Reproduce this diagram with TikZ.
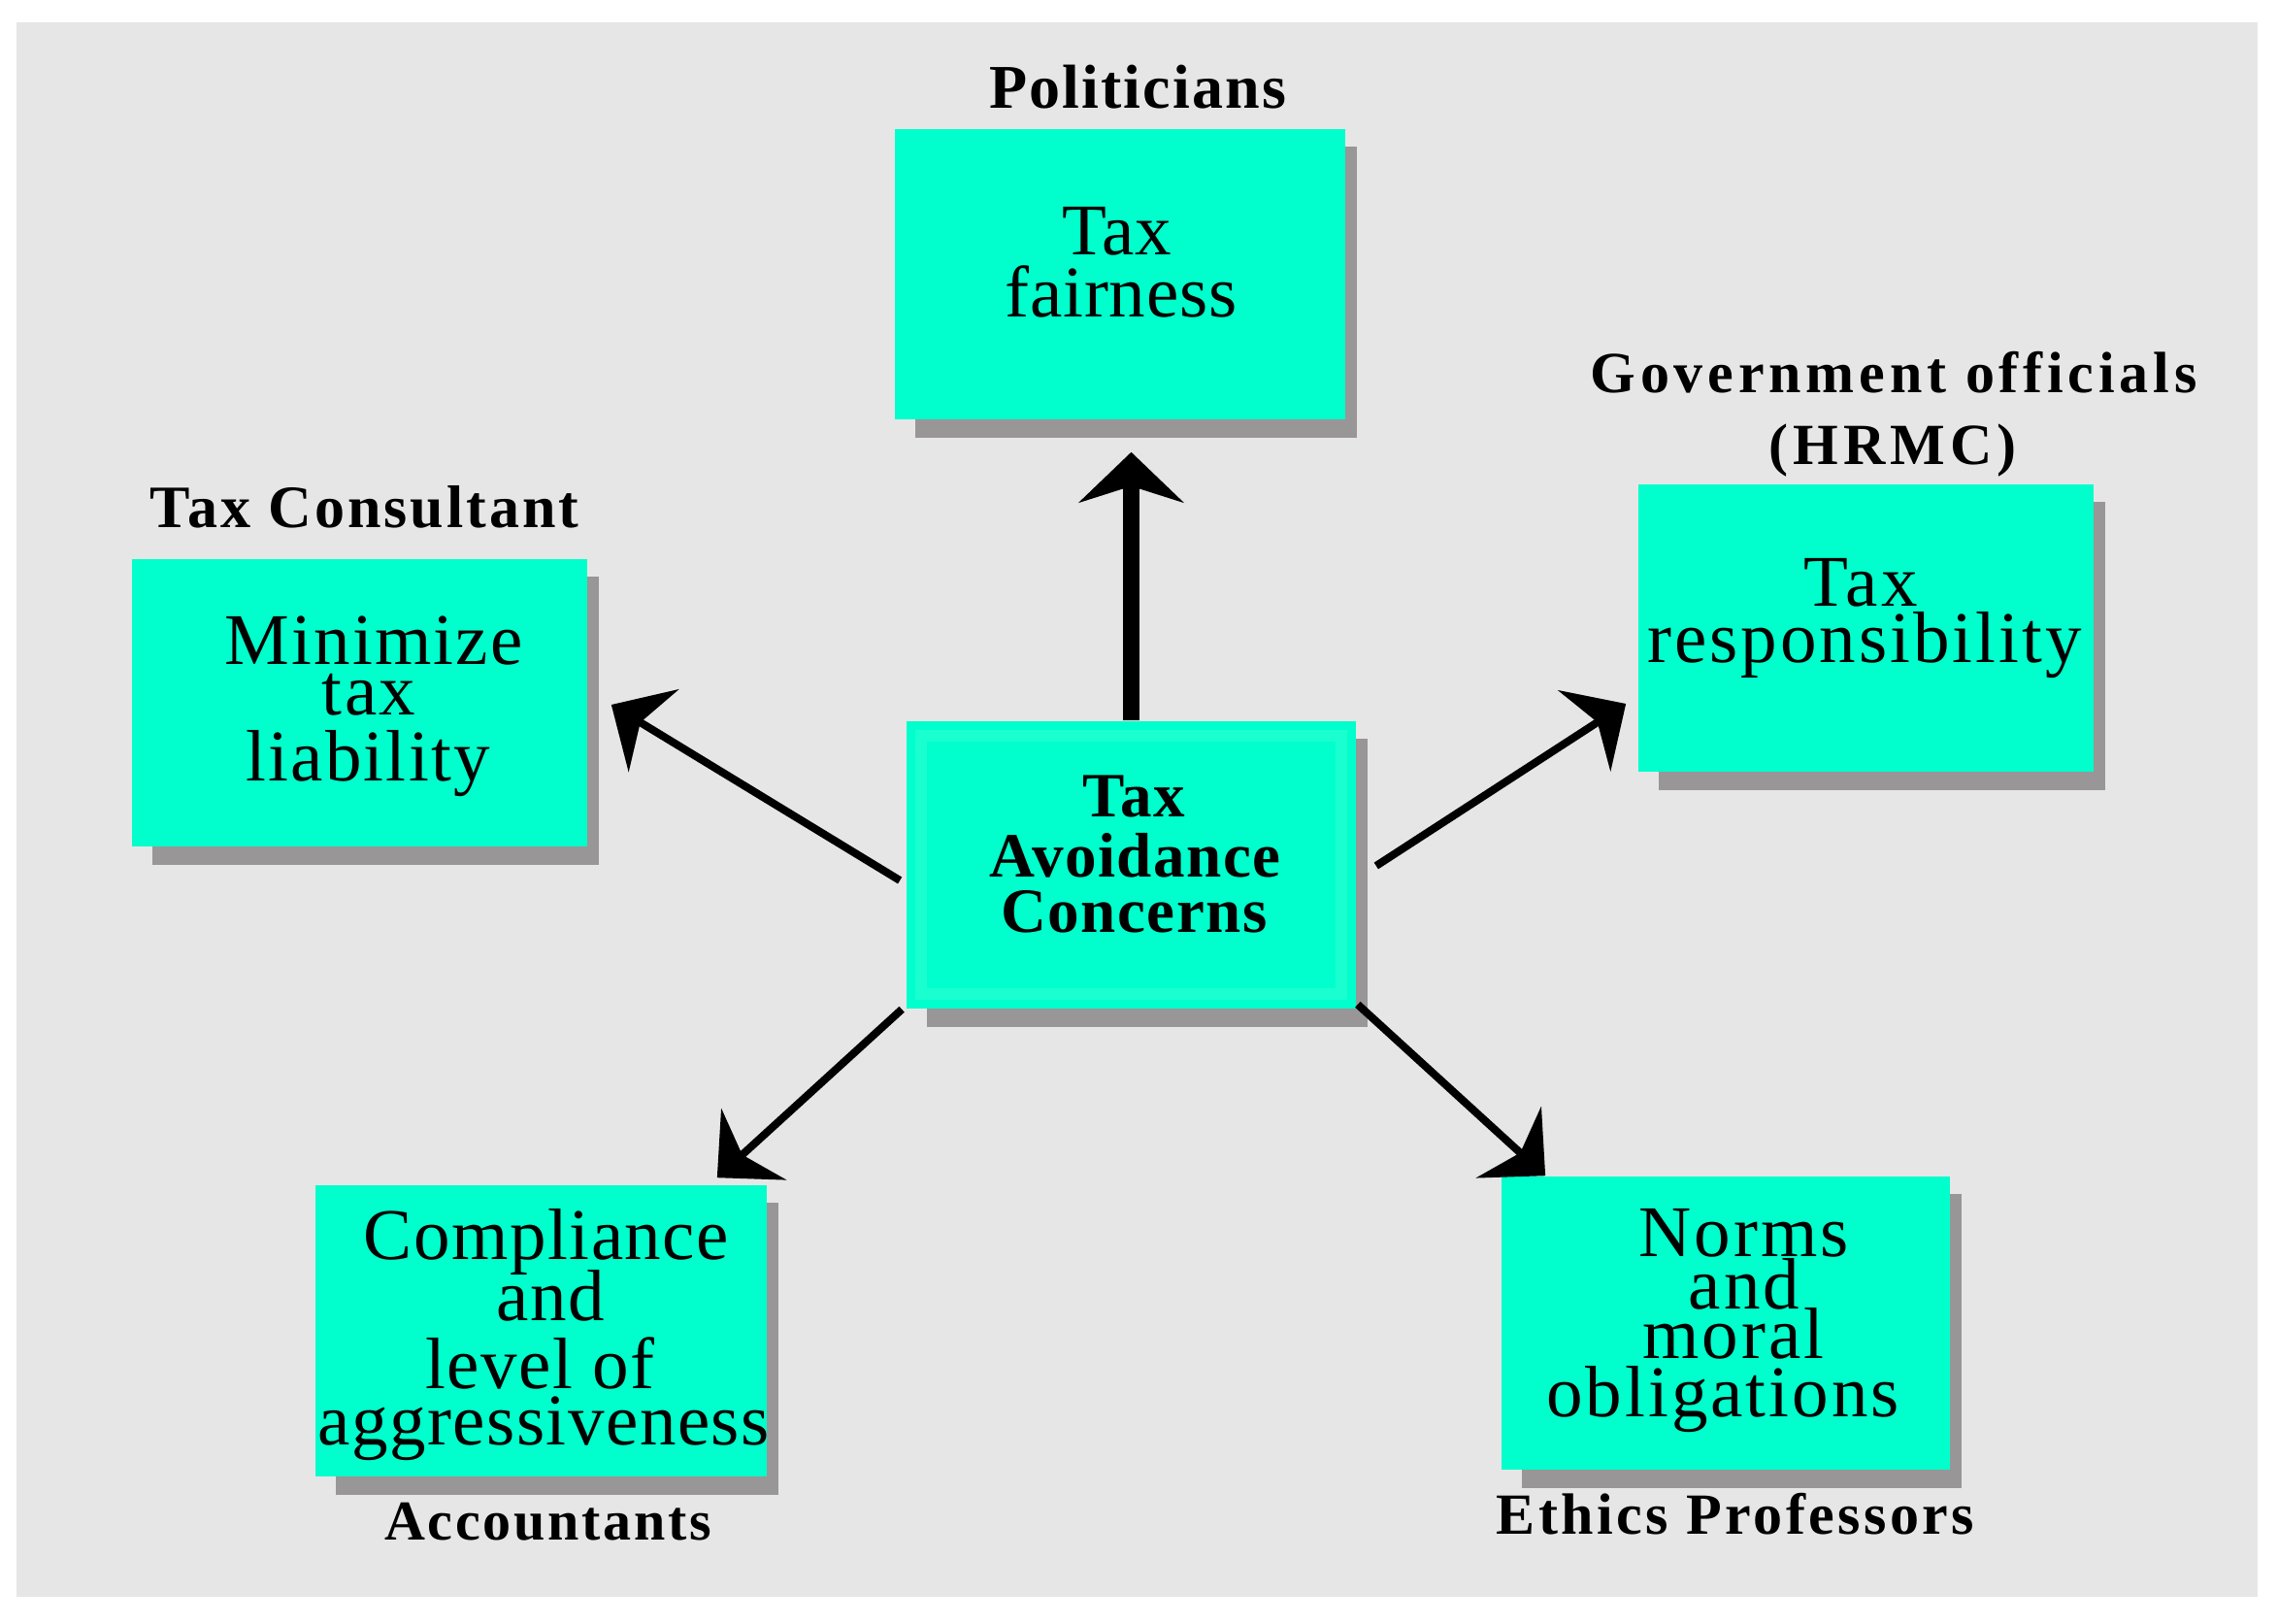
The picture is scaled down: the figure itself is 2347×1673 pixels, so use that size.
\documentclass[tikz,border=0pt]{standalone}
\usepackage{fontspec}
\setmainfont{Liberation Serif}[Ligatures=CommonOff]
\usetikzlibrary{arrows.meta,calc}
\definecolor{tealbox}{RGB}{0,255,204}
\definecolor{tealedge}{RGB}{120,255,226}
\definecolor{bggray}{RGB}{230,230,230}
\definecolor{shadowgray}{RGB}{152,150,150}
\pgfdeclarelayer{bglayer}
\pgfdeclarelayer{shadowlayer}
\pgfsetlayers{bglayer,shadowlayer,main}
\begin{document}
\begin{tikzpicture}[x=0.01cm,y=-0.01cm,
  bx/.style={rectangle, fill=tealbox, inner sep=0pt},
  reg/.style={inner sep=0pt, anchor=base, font=\fontsize{21.34pt}{21.34pt}\selectfont\addfontfeatures{LetterSpace=#1}},
  reg/.default=2,
  lab/.style 2 args={inner sep=0pt, anchor=base, font=\fontsize{#1}{#1}\selectfont\bfseries\addfontfeatures{LetterSpace=#2}},
  diagarrow/.style={line width=0.08cm, -{Stealth[length=0.51cm, width=0.99cm, inset=0.16cm]}},
  uparrow/.style={line width=0.17cm, -{Stealth[length=0.52cm, width=1.08cm, inset=0.17cm]}}
]
\useasboundingbox (0,0) rectangle (2347,1673);
\begin{pgfonlayer}{bglayer}
\fill[white] (0,0) rectangle (2347,1673);
\fill[bggray] (17,23) rectangle (2326,1645);
\end{pgfonlayer}

% boxes
\node[bx, minimum width=4.64cm, minimum height=2.99cm] (fair) at (1154,282.5) {};
\node[bx, minimum width=4.69cm, minimum height=2.96cm] (mini) at (370.5,724) {};
\node[bx, minimum width=4.63cm, minimum height=2.96cm] (c) at (1165.5,891) {};
\node[bx, minimum width=4.69cm, minimum height=2.96cm] (resp) at (1922.5,647) {};
\node[bx, minimum width=4.65cm, minimum height=3.00cm] (comp) at (557.5,1371) {};
\node[bx, minimum width=4.62cm, minimum height=3.02cm] (norms) at (1778,1363) {};

\draw[tealedge, line width=0.12cm, opacity=0.22] ([shift={(16,16)}]c.north west) rectangle ([shift={(-16,-16)}]c.south east);

\begin{pgfonlayer}{shadowlayer}
\foreach \b in {fair,mini,c,resp,comp,norms}
  \fill[shadowgray] ([shift={(22,19)}]\b.north west) rectangle ([shift={(11,18)}]\b.south east);
\end{pgfonlayer}

% box texts
\node[reg=1] (fair1) at (1151,263) {Tax};
\node[reg=1] (fair2) at (1155,327) {fairness};

\node[reg=3] (mini1) at (385,685) {Minimize};
\node[reg=3] (mini2) at (380,737) {tax};
\node[reg=3] (mini3) at (379,805) {liability};

\node[reg=4] (resp1) at (1917,625) {Tax};
\node[reg=4] (resp2) at (1921,683) {responsibility};

\node[lab={18.49pt}{2.4}] (c1) at (1168,842) {Tax};
\node[lab={18.49pt}{2.4}] (c2) at (1169.5,903) {Avoidance};
\node[lab={18.49pt}{2.4}] (c3) at (1168.5,961) {Concerns};

\node[reg=2] (comp1) at (563,1297) {Compliance};
\node[reg=2] (comp2) at (567.5,1360) {and};
\node[reg=2] (comp3) at (556.5,1430) {level of};
\node[reg=2] (comp4) at (560,1488) {aggressiveness};

\node[reg=4] (norms1) at (1797,1294) {Norms};
\node[reg=4] (norms2) at (1797,1348) {and};
\node[reg=4] (norms3) at (1786,1399) {moral};
\node[reg=4] (norms4) at (1775,1459) {obligations};

% labels
\node[lab={18.21pt}{3.3}] (lpol) at (1172,112) {Politicians};
\node[lab={17.64pt}{4.7}] (lcons) at (375.5,544) {Tax Consultant};
\node[lab={17.07pt}{8}] (lgov1) at (1951,405) {Government officials};
\node[lab={17.07pt}{8.5}] (lgov2) at (1950,479) {(HRMC)};
\node[lab={16.50pt}{4.7}] (lacc) at (564.5,1586) {Accountants};
\node[lab={17.07pt}{5.7}] (leth) at (1788,1580) {Ethics Professors};

% arrows
\coordinate (a1s) at ($(c.west)+(-6,16)$);
\coordinate (a1e) at ($(mini.east)+(24,2)$);
\coordinate (a2s) at ($(c.east)+(20,1)$);
\coordinate (a2e) at ($(resp.west)+(-12,78)$);
\coordinate (a3s) at ($(c.south west)+(-4,0)$);
\coordinate (a3e) at ($(comp.north east)+(-52,-7)$);
\coordinate (a4s) at ($(c.south east)+(1,-5)$);
\coordinate (a4e) at ($(norms.north west)+(46,0)$);
\coordinate (a0e) at ($(c.north |- fair.south)+(0,33)$);

\draw[uparrow] (c.north) -- (a0e);
\draw[diagarrow] (a1s) -- (a1e);
\draw[diagarrow] (a2s) -- (a2e);
\draw[diagarrow] (a3s) -- (a3e);
\draw[diagarrow] (a4s) -- (a4e);
\end{tikzpicture}
\end{document}
